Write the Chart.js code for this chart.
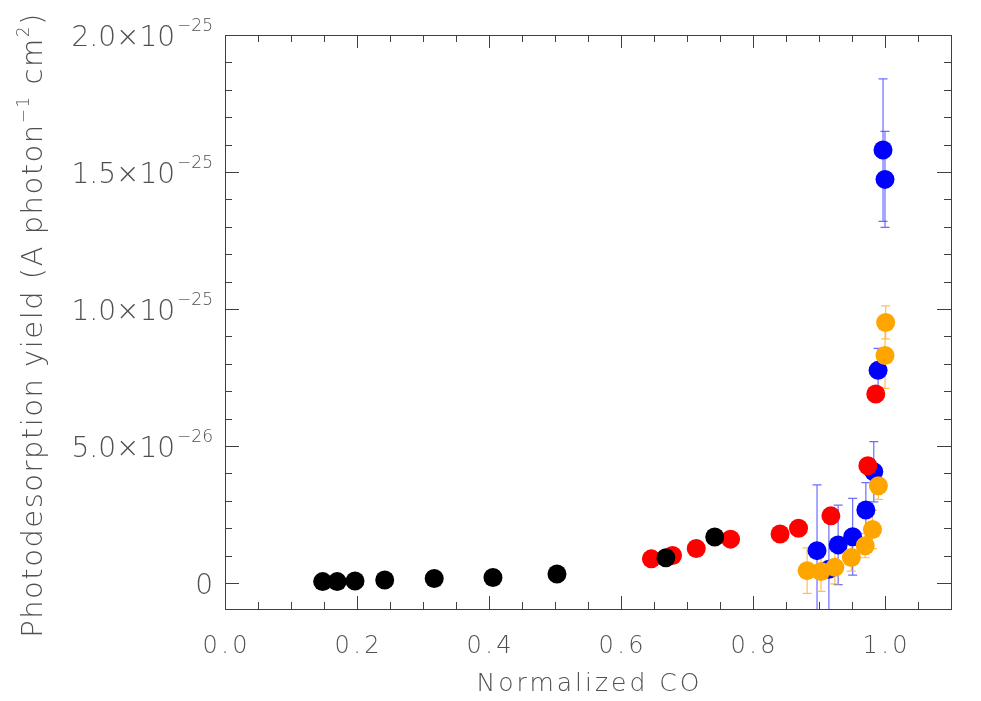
<!DOCTYPE html>
<html>
<head>
<meta charset="utf-8">
<script src="https://cdn.jsdelivr.net/npm/chart.js@4.4.1/dist/chart.umd.min.js"></script>
<style>
  html, body { margin: 0; padding: 0; background: #fff; }
  #wrap { width: 981px; height: 701px; }
</style>
</head>
<body>
<div id="wrap"><canvas id="chart" width="981" height="701"></canvas></div>
<script>
// values
const blackX = [0.148, 0.170, 0.197, 0.242, 0.317, 0.406, 0.503, 0.668, 0.742];
const blackY = [0.5e-27, 0.5e-27, 0.7e-27, 1.1e-27, 1.6e-27, 2.0e-27, 3.3e-27, 9.2e-27, 1.68e-26];

const redX = [0.646, 0.678, 0.714, 0.766, 0.841, 0.869, 0.918, 0.974, 0.986];
const redY = [8.8e-27, 1.0e-26, 1.26e-26, 1.6e-26, 1.79e-26, 2.0e-26, 2.45e-26, 4.28e-26, 6.9e-26];

const blueX = [0.897, 0.915, 0.929, 0.951, 0.971, 0.983, 0.9895, 0.997, 1.000];
const blueY = [1.18e-26, 0.5e-26, 1.39e-26, 1.69e-26, 2.66e-26, 4.06e-26, 7.76e-26, 1.58e-25, 1.473e-25];
const blueErr = [2.4e-26, 2.0e-26, 1.45e-26, 1.4e-26, 1.0e-26, 1.1e-26, 0.8e-26, 2.6e-26, 1.75e-26];

const orangeX = [0.882, 0.903, 0.924, 0.949, 0.970, 0.981, 0.990, 1.000, 1.001];
const orangeY = [4.5e-27, 4.2e-27, 5.7e-27, 9.3e-27, 1.36e-26, 1.95e-26, 3.55e-26, 8.3e-26, 9.51e-26];
const orangeErr = [8.3e-27, 7.3e-27, 6e-27, 5e-27, 4.4e-27, 7e-27, 5e-27, 1.2e-26, 6e-27];

const xTickValues = [0.0, 0.2, 0.4, 0.6, 0.8, 1.0];
const xTickLabels = ['0.0', '0.2', '0.4', '0.6', '0.8', '1.0'];
const yTickValues = [0, 5e-26, 1e-25, 1.5e-25, 2e-25];
const yTickMantissa = ['0', '5.0×10', '1.0×10', '1.5×10', '2.0×10'];
const yTickExponent = ['', '−26', '−25', '−25', '−25'];

const xTitle = 'Normalized CO';
// y title in pieces: [text, isSuperscript]
const yTitleParts = [['Photodesorption yield (A photon', false], ['−1', true], [' cm', false], ['2', true], [')', false]];

const X_MIN = 0, X_MAX = 1.1, Y_MIN = -9.5e-27, Y_MAX = 2e-25;
const TEXT = '#505050';
const FAMILY = '"DejaVu Sans"';

function pts(xs, ys) {
    return xs.map((x, i) => ({ x: x, y: ys[i] }));
}

function font(size) {
    return '200 ' + size + 'px ' + FAMILY;
}

// error bars drawn through the scales, under the points
const errorBars = {
    id: 'errorBars',
    beforeDatasetsDraw(chart) {
        const { ctx, chartArea, scales } = chart;
        ctx.save();
        ctx.beginPath();
        ctx.rect(chartArea.left, chartArea.top, chartArea.right - chartArea.left, chartArea.bottom - chartArea.top);
        ctx.clip();
        ctx.lineWidth = 1.2;
        chart.data.datasets.forEach(ds => {
            if (!ds.errors) return;
            ctx.strokeStyle = ds.errorColor;
            ds.data.forEach((p, i) => {
                const e = ds.errors[i];
                const px = scales.x.getPixelForValue(p.x);
                const top = scales.y.getPixelForValue(p.y + e);
                const bot = scales.y.getPixelForValue(p.y - e);
                ctx.beginPath();
                ctx.moveTo(px, top); ctx.lineTo(px, bot);
                ctx.moveTo(px - 4.5, top); ctx.lineTo(px + 4.5, top);
                ctx.moveTo(px - 4.5, bot); ctx.lineTo(px + 4.5, bot);
                ctx.stroke();
            });
        });
        ctx.restore();
    }
};

// box with inward ticks on all four sides, plus all the text
const frame = {
    id: 'frame',
    afterDraw(chart) {
        const { ctx, chartArea: a, scales } = chart;
        ctx.save();
        ctx.strokeStyle = '#404040';
        ctx.lineWidth = 1;
        ctx.strokeRect(a.left + 0.5, a.top + 0.5, a.right - a.left, a.bottom - a.top);
        ctx.beginPath();
        for (let k = 0; k <= 22; k++) {
            const len = k % 4 === 0 ? 13 : 7;
            const px = Math.round(scales.x.getPixelForValue(k * 0.05)) + 0.5;
            ctx.moveTo(px, a.bottom); ctx.lineTo(px, a.bottom - len);
            ctx.moveTo(px, a.top); ctx.lineTo(px, a.top + len);
        }
        for (let k = 0; k <= 20; k++) {
            const len = k % 5 === 0 ? 14 : 7;
            const py = Math.round(scales.y.getPixelForValue(k * 1e-26)) + 0.5;
            ctx.moveTo(a.left, py); ctx.lineTo(a.left + len, py);
            ctx.moveTo(a.right, py); ctx.lineTo(a.right - len, py);
        }
        ctx.stroke();

        ctx.fillStyle = TEXT;
        ctx.textBaseline = 'alphabetic';

        // x tick labels
        ctx.font = font(24);
        ctx.letterSpacing = '3.5px';
        ctx.textAlign = 'center';
        xTickValues.forEach((v, i) => {
            ctx.fillText(xTickLabels[i], scales.x.getPixelForValue(v) + 1.75, a.bottom + 44);
        });

        // y tick labels with superscript exponent
        ctx.letterSpacing = '0px';
        ctx.textAlign = 'left';
        yTickValues.forEach((v, i) => {
            const py = scales.y.getPixelForValue(v);
            ctx.font = font(17);
            const ew = yTickExponent[i] ? ctx.measureText(yTickExponent[i]).width : 0;
            ctx.font = font(28);
            const mw = ctx.measureText(yTickMantissa[i]).width;
            const right = a.left - 12;
            ctx.fillText(yTickMantissa[i], right - ew - mw - (ew ? 2 : 0), py + 11);
            if (ew) {
                ctx.font = font(17);
                ctx.fillText(yTickExponent[i], right - ew, py - 4);
            }
        });

        // x title
        ctx.font = font(25);
        ctx.letterSpacing = '3px';
        ctx.textAlign = 'center';
        ctx.fillText(xTitle, (a.left + a.right) / 2 + 1.5, 691);

        // y title, rotated
        ctx.save();
        ctx.translate(42, 325);
        ctx.rotate(-Math.PI / 2);
        ctx.textAlign = 'left';
        ctx.letterSpacing = '1.5px';
        const widths = yTitleParts.map(([t, sup]) => {
            ctx.font = font(sup ? 17 : 29);
            return ctx.measureText(t).width;
        });
        const total = widths.reduce((s, w) => s + w, 0);
        let x = -total / 2;
        yTitleParts.forEach(([t, sup], i) => {
            ctx.font = font(sup ? 17 : 29);
            ctx.fillText(t, x, sup ? -13 : 0);
            x += widths[i];
        });
        ctx.restore();

        ctx.restore();
    }
};

const ctx = document.getElementById('chart').getContext('2d');
new Chart(ctx, {
    type: 'scatter',
    data: {
        datasets: [
            { label: 'blue', data: pts(blueX, blueY), errors: blueErr, errorColor: 'rgba(60,60,255,0.75)',
              backgroundColor: '#0000ff', borderWidth: 0, pointRadius: 9.5, order: 4 },
            { label: 'red', data: pts(redX, redY),
              backgroundColor: '#ff0000', borderWidth: 0, pointRadius: 9.5, order: 3 },
            { label: 'black', data: pts(blackX, blackY),
              backgroundColor: '#000000', borderWidth: 0, pointRadius: 9.5, order: 2 },
            { label: 'orange', data: pts(orangeX, orangeY), errors: orangeErr, errorColor: 'rgba(255,175,40,0.8)',
              backgroundColor: '#ffa500', borderWidth: 0, pointRadius: 9.5, order: 1 }
        ]
    },
    options: {
        responsive: false,
        animation: false,
        layout: { padding: { top: 35, right: 30, left: 0, bottom: 0 } },
        plugins: { legend: { display: false }, tooltip: { enabled: false } },
        scales: {
            x: {
                type: 'linear', min: X_MIN, max: X_MAX,
                grid: { display: false }, border: { display: false },
                ticks: { display: false },
                afterFit: s => { s.height = 92; }
            },
            y: {
                type: 'linear', min: Y_MIN, max: Y_MAX,
                grid: { display: false }, border: { display: false },
                ticks: { display: false },
                afterFit: s => { s.width = 225; }
            }
        }
    },
    plugins: [errorBars, frame]
});
</script>
</body>
</html>
